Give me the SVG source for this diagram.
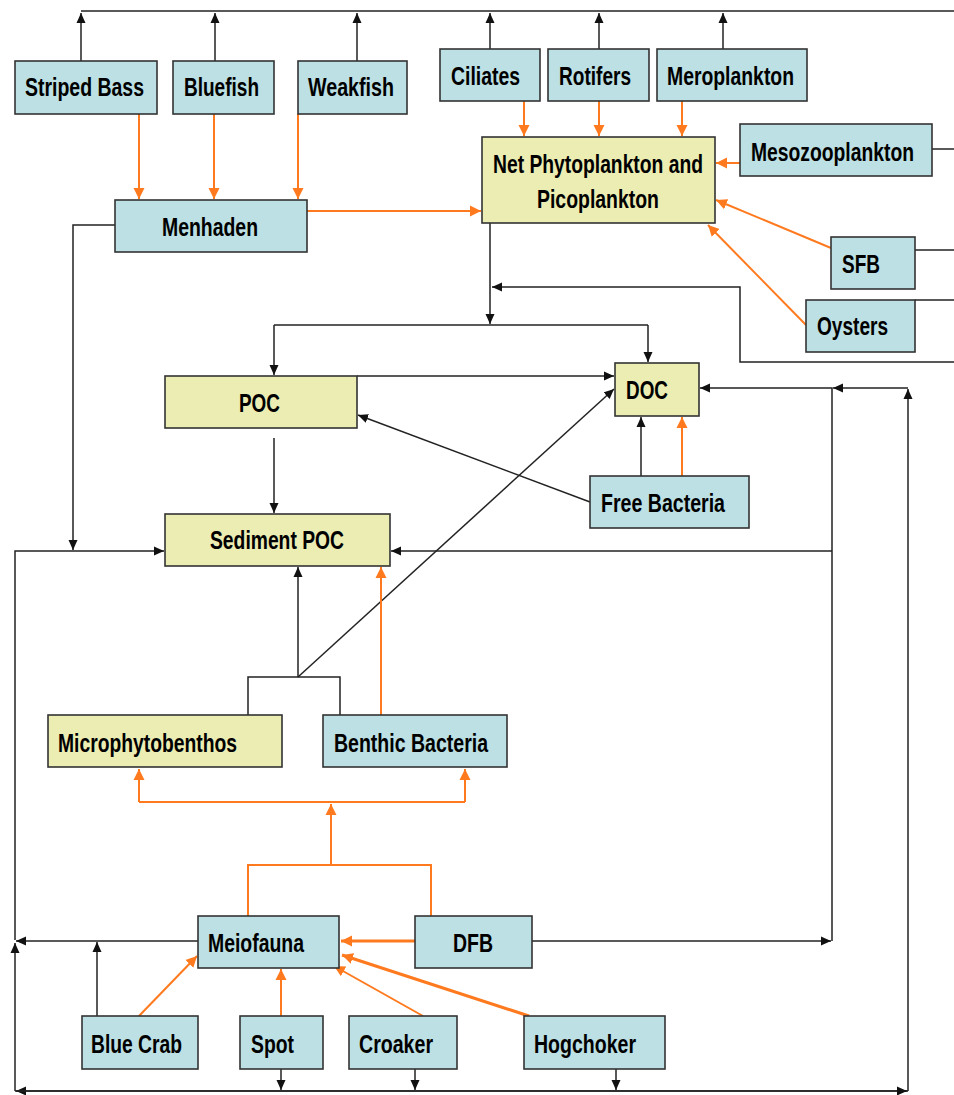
<svg xmlns="http://www.w3.org/2000/svg" width="954" height="1095" viewBox="0 0 954 1095">
  <defs>
    <style>
      .box { stroke: #333; stroke-width: 1.6; }
      .blue { fill: #BCE0E4; }
      .yel { fill: #ECEDB2; }
      .lbl { font-family: "Liberation Sans", Arial, sans-serif; font-weight: bold; font-size: 26px; fill: #000; }
      .k { fill: none; stroke: #222; stroke-width: 1.5; }
      .o { fill: none; stroke: #FF7A1E; stroke-width: 2; }
      .o3 { fill: none; stroke: #FF7A1E; stroke-width: 3; }
    </style>
    <marker id="ak" markerUnits="userSpaceOnUse" markerWidth="10" markerHeight="10" refX="10" refY="5" orient="auto">
      <path d="M0,0.5 L10,5 L0,9.5 z" fill="#111"/>
    </marker>
    <marker id="ao" markerUnits="userSpaceOnUse" markerWidth="12" markerHeight="12" refX="11" refY="6" orient="auto">
      <path d="M0,0.5 L11,6 L0,11.5 z" fill="#FF7A1E"/>
    </marker>
  </defs>
  <rect width="954" height="1095" fill="#fff"/>

  <g id="connectors">
    <!-- black flows -->
    <path class="k" d="M81,11 H954"/>
    <path class="k" d="M81,61 V13" marker-end="url(#ak)"/>
    <path class="k" d="M215,61 V13" marker-end="url(#ak)"/>
    <path class="k" d="M357,61 V13" marker-end="url(#ak)"/>
    <path class="k" d="M490,49 V13" marker-end="url(#ak)"/>
    <path class="k" d="M599,49 V13" marker-end="url(#ak)"/>
    <path class="k" d="M723,49 V13" marker-end="url(#ak)"/>
    <path class="k" d="M932,149 H954"/>
    <path class="k" d="M915,250 H954"/>
    <path class="k" d="M915,300 H954"/>
    <path class="k" d="M954,362 H740 V287 H492" marker-end="url(#ak)"/>
    <path class="k" d="M490,223 V324" marker-end="url(#ak)"/>
    <path class="k" d="M274,325 H648"/>
    <path class="k" d="M274,325 V375" marker-end="url(#ak)"/>
    <path class="k" d="M648,325 V362" marker-end="url(#ak)"/>
    <path class="k" d="M357,376 H614" marker-end="url(#ak)"/>
    <path class="k" d="M274,438 V513" marker-end="url(#ak)"/>
    <path class="k" d="M590,502 L358,415" marker-end="url(#ak)"/>
    <path class="k" d="M641,476 V417" marker-end="url(#ak)"/>
    <path class="k" d="M115,225 H73 V550" marker-end="url(#ak)"/>
    <path class="k" d="M15,940 V551 H164" marker-end="url(#ak)"/>
    <path class="k" d="M198,941 H16" marker-end="url(#ak)"/>
    <path class="k" d="M15,1091 V943" marker-end="url(#ak)"/>
    <path class="k" d="M908,1091 H16" marker-end="url(#ak)"/>
    <path class="k" d="M15,1091 H907" marker-end="url(#ak)"/>
    <path class="k" d="M908,1091 V389" marker-end="url(#ak)"/>
    <path class="k" d="M908,388 H833" marker-end="url(#ak)"/>
    <path class="k" d="M832,941 V388 H700" marker-end="url(#ak)"/>
    <path class="k" d="M832,551 H391" marker-end="url(#ak)"/>
    <path class="k" d="M532,941 H831" marker-end="url(#ak)"/>
    <path class="k" d="M97,1016 V942" marker-end="url(#ak)"/>
    <path class="k" d="M281,1069 V1090" marker-end="url(#ak)"/>
    <path class="k" d="M415,1069 V1090" marker-end="url(#ak)"/>
    <path class="k" d="M616,1069 V1090" marker-end="url(#ak)"/>
    <path class="k" d="M248,715 V677 H340 V715"/>
    <path class="k" d="M298,677 V567" marker-end="url(#ak)"/>
    <path class="k" d="M298,677 L614,389" marker-end="url(#ak)"/>

    <!-- orange flows -->
    <path class="o" d="M139,114 V199" marker-end="url(#ao)"/>
    <path class="o" d="M214,114 V199" marker-end="url(#ao)"/>
    <path class="o" d="M298,114 V199" marker-end="url(#ao)"/>
    <path class="o" stroke-width="2.5" d="M307,211 H481" marker-end="url(#ao)"/>
    <path class="o" stroke-width="1.5" d="M524,101 V136" marker-end="url(#ao)"/>
    <path class="o" stroke-width="1.5" d="M599,101 V136" marker-end="url(#ao)"/>
    <path class="o" stroke-width="1.5" d="M682,101 V136" marker-end="url(#ao)"/>
    <path class="o" d="M740,163 H716" marker-end="url(#ao)"/>
    <path class="o" stroke-width="2.5" d="M831,248 L716,200" marker-end="url(#ao)"/>
    <path class="o" stroke-width="2.5" d="M806,325 L708,225" marker-end="url(#ao)"/>
    <path class="o" d="M682,476 V417" marker-end="url(#ao)"/>
    <path class="o" d="M381,715 V567" marker-end="url(#ao)"/>
    <path class="o" stroke-width="2.5" d="M139,802 H465"/>
    <path class="o" stroke-width="2.5" d="M139,802 V769" marker-end="url(#ao)"/>
    <path class="o" stroke-width="2.5" d="M465,802 V769" marker-end="url(#ao)"/>
    <path class="o" stroke-width="2.5" d="M331,865 V804" marker-end="url(#ao)"/>
    <path class="o" stroke-width="2.5" d="M248,916 V865 H431 V916"/>
    <path class="o3" d="M415,941 H341" marker-end="url(#ao)"/>
    <path class="o" stroke-width="2.5" d="M139,1016 L197,956" marker-end="url(#ao)"/>
    <path class="o" d="M281,1016 V969" marker-end="url(#ao)"/>
    <path class="o" stroke-width="2.5" d="M423,1016 L334,966" marker-end="url(#ao)"/>
    <path class="o3" d="M529,1016 L342,955" marker-end="url(#ao)"/>
  </g>

  <g id="striped-bass"><rect class="box blue" x="15" y="61" width="142" height="53"/><text class="lbl" x="25" y="96" textLength="119" lengthAdjust="spacingAndGlyphs">Striped Bass</text></g>
  <g id="bluefish"><rect class="box blue" x="173" y="61" width="101" height="53"/><text class="lbl" x="184" y="96" textLength="75" lengthAdjust="spacingAndGlyphs">Bluefish</text></g>
  <g id="weakfish"><rect class="box blue" x="298" y="61" width="109" height="53"/><text class="lbl" x="308" y="96" textLength="86" lengthAdjust="spacingAndGlyphs">Weakfish</text></g>
  <g id="ciliates"><rect class="box blue" x="440" y="49" width="100" height="52"/><text class="lbl" x="451" y="85" textLength="69" lengthAdjust="spacingAndGlyphs">Ciliates</text></g>
  <g id="rotifers"><rect class="box blue" x="548" y="49" width="101" height="52"/><text class="lbl" x="559" y="85" textLength="72" lengthAdjust="spacingAndGlyphs">Rotifers</text></g>
  <g id="meroplankton"><rect class="box blue" x="657" y="49" width="150" height="52"/><text class="lbl" x="667" y="85" textLength="127" lengthAdjust="spacingAndGlyphs">Meroplankton</text></g>
  <g id="phytoplankton"><rect class="box yel" x="482" y="137" width="233" height="86"/><text class="lbl" x="493" y="173" textLength="210" lengthAdjust="spacingAndGlyphs">Net Phytoplankton and</text><text class="lbl" x="537" y="208" textLength="122" lengthAdjust="spacingAndGlyphs">Picoplankton</text></g>
  <g id="mesozooplankton"><rect class="box blue" x="740" y="124" width="192" height="52"/><text class="lbl" x="751" y="161" textLength="163" lengthAdjust="spacingAndGlyphs">Mesozooplankton</text></g>
  <g id="menhaden"><rect class="box blue" x="115" y="200" width="192" height="52"/><text class="lbl" x="162" y="236" textLength="96" lengthAdjust="spacingAndGlyphs">Menhaden</text></g>
  <g id="sfb"><rect class="box blue" x="831" y="237" width="84" height="52"/><text class="lbl" x="842" y="273" textLength="38" lengthAdjust="spacingAndGlyphs">SFB</text></g>
  <g id="oysters"><rect class="box blue" x="806" y="300" width="109" height="52"/><text class="lbl" x="817" y="335" textLength="71" lengthAdjust="spacingAndGlyphs">Oysters</text></g>
  <g id="poc"><rect class="box yel" x="165" y="376" width="192" height="52"/><text class="lbl" x="239" y="412" textLength="41" lengthAdjust="spacingAndGlyphs">POC</text></g>
  <g id="doc"><rect class="box yel" x="615" y="363" width="84" height="53"/><text class="lbl" x="626" y="399" textLength="42" lengthAdjust="spacingAndGlyphs">DOC</text></g>
  <g id="free-bacteria"><rect class="box blue" x="590" y="476" width="159" height="52"/><text class="lbl" x="601" y="512" textLength="124" lengthAdjust="spacingAndGlyphs">Free Bacteria</text></g>
  <g id="sediment-poc"><rect class="box yel" x="165" y="514" width="225" height="52"/><text class="lbl" x="210" y="549" textLength="134" lengthAdjust="spacingAndGlyphs">Sediment POC</text></g>
  <g id="microphytobenthos"><rect class="box yel" x="48" y="715" width="234" height="52"/><text class="lbl" x="58" y="752" textLength="179" lengthAdjust="spacingAndGlyphs">Microphytobenthos</text></g>
  <g id="benthic-bacteria"><rect class="box blue" x="323" y="715" width="184" height="52"/><text class="lbl" x="334" y="752" textLength="154" lengthAdjust="spacingAndGlyphs">Benthic Bacteria</text></g>
  <g id="meiofauna"><rect class="box blue" x="198" y="916" width="141" height="52"/><text class="lbl" x="208" y="952" textLength="96" lengthAdjust="spacingAndGlyphs">Meiofauna</text></g>
  <g id="dfb"><rect class="box blue" x="415" y="916" width="117" height="52"/><text class="lbl" x="453" y="952" textLength="40" lengthAdjust="spacingAndGlyphs">DFB</text></g>
  <g id="blue-crab"><rect class="box blue" x="82" y="1016" width="116" height="53"/><text class="lbl" x="91" y="1053" textLength="91" lengthAdjust="spacingAndGlyphs">Blue Crab</text></g>
  <g id="spot"><rect class="box blue" x="240" y="1016" width="83" height="53"/><text class="lbl" x="251" y="1053" textLength="43" lengthAdjust="spacingAndGlyphs">Spot</text></g>
  <g id="croaker"><rect class="box blue" x="349" y="1016" width="108" height="53"/><text class="lbl" x="359" y="1053" textLength="74" lengthAdjust="spacingAndGlyphs">Croaker</text></g>
  <g id="hogchoker"><rect class="box blue" x="524" y="1016" width="141" height="53"/><text class="lbl" x="534" y="1053" textLength="102" lengthAdjust="spacingAndGlyphs">Hogchoker</text></g>
</svg>
